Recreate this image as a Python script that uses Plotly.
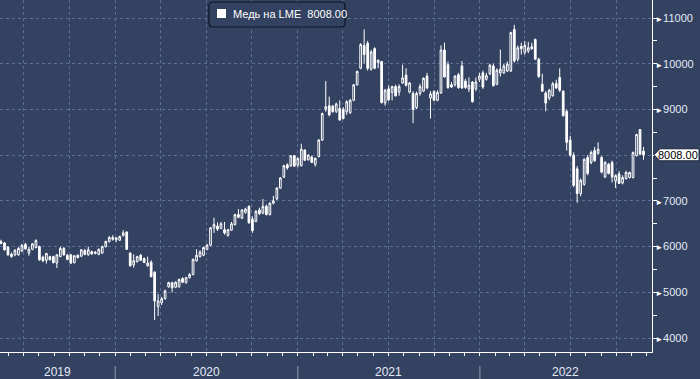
import pandas as pd
import plotly.graph_objects as go

# ---------------- data (weekly LME copper, USD/t) ----------------
week_start = "2019-05-17"
n_weeks = 185

opens = [6110, 6080, 5990, 5830, 5820, 5820, 5900, 6050, 5860, 5940,
         5980, 6000, 5770, 5700, 5780, 5780, 5640, 5780, 5960, 5810,
         5820, 5650, 5810, 5790, 5910, 5820, 5890, 5850, 5830, 5860,
         6000, 6110, 6200, 6150, 6140, 6240, 6320, 5860, 5600, 5670,
         5810, 5740, 5580, 5660, 5440, 4690, 4770, 4860, 5120, 5210,
         5110, 5120, 5300, 5210, 5320, 5390, 5690, 5780, 5810, 5940,
         6030, 6410, 6450, 6400, 6370, 6240, 6360, 6480, 6700, 6620,
         6750, 6880, 6600, 6550, 6800, 6730, 6880, 6700, 6950, 7040,
         7280, 7520, 7790, 7770, 7990, 7780, 7770, 8110, 7900, 7960,
         7800, 7970, 8330, 9000, 9080, 9070, 8960, 9020, 9000, 8950,
         8930, 9200, 9540, 9900, 10400, 10450, 9880, 10330, 10030, 10050,
         9140, 9450, 9370, 9500, 9380, 9580, 9750, 9380, 9350, 9040,
         9350, 9400, 9730, 9250, 9390, 9200, 9360, 10300, 9980, 9540,
         9540, 9760, 9950, 9620, 9450, 9600, 9450, 9660, 9800, 9660,
         9780, 9950, 9550, 9800, 9800, 9840, 9840, 10750, 10100, 10380,
         10250, 10280, 10370, 10530, 10100, 9550, 9360, 9250, 9300, 9570,
         9700, 9400, 8960, 8330, 8000, 7700, 7160, 7360, 7950, 7840,
         8100, 8040, 7950, 7520, 7800, 7840, 7440, 7590, 7390, 7490,
         7510, 7510, 7990, 8560, 8090]

highs = [6150, 6100, 6010, 5870, 5940, 5990, 6060, 6080, 6000, 6080,
         6160, 6020, 5800, 5860, 5800, 5800, 5830, 6000, 5990, 5840,
         5830, 5810, 5830, 5940, 5950, 6000, 5910, 5900, 5960, 6020,
         6130, 6230, 6250, 6210, 6240, 6360, 6330, 5870, 5830, 5800,
         5840, 5760, 5780, 5700, 5460, 4960, 4900, 5060, 5230, 5230,
         5240, 5300, 5330, 5340, 5420, 5740, 5940, 5920, 6000, 6060,
         6430, 6630, 6530, 6540, 6540, 6390, 6540, 6720, 6820, 6820,
         6850, 6900, 6660, 6800, 6850, 7040, 6920, 6970, 7110, 7300,
         7520, 7790, 7820, 8000, 8000, 7950, 8250, 8130, 8020, 7990,
         7950, 8350, 8930, 9620, 9280, 9100, 9150, 9200, 9050, 9200,
         9230, 9550, 9850, 10450, 10750, 10500, 10300, 10360, 10080, 10060,
         9450, 9520, 9520, 9540, 9550, 9980, 9900, 9600, 9400, 9390,
         9560, 9700, 9800, 9400, 9420, 9420, 10400, 10460, 10050, 9600,
         9750, 9800, 10060, 9670, 9700, 9620, 9700, 9800, 9850, 9800,
         10000, 10000, 9900, 10310, 10000, 10050, 10700, 10850, 10400, 10460,
         10500, 10480, 10460, 10550, 10130, 9780, 9400, 9450, 9600, 9650,
         9900, 9420, 9000, 8420, 8060, 7760, 7490, 7930, 8000, 8100,
         8180, 8280, 7980, 7870, 7830, 7880, 7580, 7650, 7560, 7660,
         7640, 8080, 8470, 8570, 8180]

lows = [6050, 5910, 5800, 5760, 5790, 5800, 5880, 5930, 5800, 5920,
        5960, 5690, 5660, 5630, 5700, 5630, 5530, 5770, 5800, 5700,
        5620, 5630, 5740, 5770, 5810, 5800, 5820, 5830, 5810, 5840,
        5980, 6090, 6130, 6100, 6120, 6220, 5930, 5560, 5540, 5650,
        5690, 5640, 5560, 5330, 4390, 4480, 4720, 4840, 5100, 5000,
        5090, 5100, 5200, 5190, 5300, 5370, 5670, 5760, 5790, 5920,
        6010, 6300, 6340, 6380, 6260, 6220, 6340, 6460, 6620, 6600,
        6720, 6500, 6300, 6530, 6690, 6710, 6680, 6680, 6920, 7020,
        7260, 7500, 7680, 7740, 7740, 7730, 7750, 7870, 7880, 7830,
        7750, 7950, 8310, 8950, 8850, 8930, 8920, 8750, 8780, 8880,
        8900, 9180, 9520, 9880, 10000, 9850, 9850, 9880, 9900, 9130,
        9080, 9180, 9200, 9280, 9300, 9560, 9500, 9350, 8700, 9010,
        9300, 9380, 9440, 8800, 9180, 9180, 9340, 9700, 9450, 9470,
        9500, 9450, 9450, 9450, 9380, 9150, 9400, 9600, 9450, 9630,
        9750, 9500, 9530, 9720, 9780, 9820, 9820, 10020, 10050, 10200,
        10200, 10230, 10300, 10080, 9690, 9380, 8960, 9200, 9280, 9450,
        9380, 8850, 8100, 7970, 7300, 6960, 7100, 7330, 7560, 7800,
        7850, 8010, 7600, 7500, 7580, 7400, 7280, 7370, 7360, 7460,
        7490, 7490, 7970, 8000, 7900]

closes = [6070, 5930, 5820, 5780, 5920, 5960, 6030, 5950, 5940, 6060,
          6130, 5710, 5690, 5850, 5710, 5650, 5820, 5960, 5820, 5720,
          5640, 5800, 5760, 5930, 5830, 5930, 5840, 5880, 5940, 6000,
          6110, 6200, 6160, 6190, 6220, 6300, 5940, 5580, 5690, 5780,
          5700, 5650, 5640, 5340, 4810, 4810, 4860, 5030, 5210, 5100,
          5220, 5280, 5220, 5320, 5390, 5720, 5810, 5880, 5980, 6030,
          6410, 6480, 6380, 6500, 6300, 6370, 6500, 6700, 6640, 6800,
          6820, 6520, 6350, 6770, 6720, 6880, 6700, 6950, 7000, 7280,
          7500, 7770, 7720, 7985, 7760, 7930, 8130, 7890, 8000, 7840,
          7930, 8330, 8910, 9060, 8880, 8950, 9120, 8770, 8800, 9170,
          9200, 9540, 9830, 10420, 10200, 9900, 10260, 9900, 10080, 9150,
          9420, 9210, 9500, 9300, 9500, 9690, 9530, 9580, 9000, 9350,
          9500, 9680, 9470, 9340, 9200, 9370, 10300, 9710, 9480, 9490,
          9730, 9480, 9470, 9480, 9530, 9170, 9600, 9730, 9490, 9740,
          9970, 9520, 9860, 9880, 9950, 9990, 10680, 10060, 10350, 10330,
          10400, 10350, 10330, 10100, 9720, 9400, 9140, 9420, 9560, 9470,
          9420, 8860, 8280, 8000, 7340, 7160, 7450, 7910, 7600, 8060,
          7880, 8130, 7630, 7840, 7600, 7520, 7550, 7380, 7510, 7620,
          7620, 8060, 8450, 8020, 8008]

series_name = "Медь на LME"
y_ticks = [4000, 5000, 6000, 7000, 8000, 9000, 10000, 11000]
quarter_ticks = ["2019-07-01", "2019-10-01", "2020-01-01", "2020-04-01",
                 "2020-07-01", "2020-10-01", "2021-01-01", "2021-04-01",
                 "2021-07-01", "2021-10-01", "2022-01-01", "2022-04-01",
                 "2022-07-01", "2022-10-01"]
year_labels = ["2019", "2020", "2021", "2022"]

# ---------------- styling ----------------
BG = "#344261"
GRID = "#5b6f97"
TXT = "#e3eaf7"
FONT = "Liberation Sans"
W, H = 700, 379
ML, MR, MT, MB = 0, 48, 0, 27
PW, PH = W - ML - MR, H - MT - MB

x_range = [pd.Timestamp("2019-05-15"), pd.Timestamp("2022-12-12")]
y_range = [3694, 11394]

dates = pd.date_range(week_start, periods=n_weeks, freq="7D")
last = closes[-1]

fig = go.Figure()
fig.add_trace(go.Candlestick(
    x=dates, open=opens, high=highs, low=lows, close=closes,
    name=series_name,
    increasing=dict(line=dict(color="white", width=1), fillcolor=BG),
    decreasing=dict(line=dict(color="white", width=1), fillcolor="white"),
    whiskerwidth=0, showlegend=False, hoverinfo="skip",
))

def px(x):
    return x / PW

def py(y):
    return 1 - y / PH

shapes = []
annotations = []

# year separators below axis
for yr in year_labels[1:]:
    shapes.append(dict(type="line", xref="x", yref="paper",
                       x0=f"{yr}-01-01", x1=f"{yr}-01-01",
                       y0=py(366), y1=py(380),
                       line=dict(color="#9098ab", width=1)))

# year labels centred in visible year span
bounds = [x_range[0]] + [pd.Timestamp(f"{y}-01-01") for y in year_labels[1:]] + [x_range[1]]
for i, yr in enumerate(year_labels):
    mid = bounds[i] + (bounds[i + 1] - bounds[i]) / 2
    annotations.append(dict(x=mid, y=py(372), xref="x", yref="paper",
                            text=yr, showarrow=False, xanchor="center",
                            yanchor="middle",
                            font=dict(family=FONT, size=12, color=TXT)))

# legend box
r = 4
x0b, x1b, y0b, y1b = 209, 345, 2, 27
path = (f"M {px(x0b + r)},{py(y0b)} L {px(x1b - r)},{py(y0b)} "
        f"Q {px(x1b)},{py(y0b)} {px(x1b)},{py(y0b + r)} "
        f"L {px(x1b)},{py(y1b - r)} Q {px(x1b)},{py(y1b)} {px(x1b - r)},{py(y1b)} "
        f"L {px(x0b + r)},{py(y1b)} Q {px(x0b)},{py(y1b)} {px(x0b)},{py(y1b - r)} "
        f"L {px(x0b)},{py(y0b + r)} Q {px(x0b)},{py(y0b)} {px(x0b + r)},{py(y0b)} Z")
shapes.append(dict(type="path", xref="paper", yref="paper", path=path,
                   fillcolor=BG, line=dict(color="#0e1424", width=1.2)))
shapes.append(dict(type="rect", xref="paper", yref="paper",
                   x0=px(217), x1=px(226), y0=py(18), y1=py(9),
                   fillcolor="white", line=dict(width=0)))
annotations.append(dict(x=px(231), y=py(14.5), xref="paper", yref="paper",
                        text=f"{series_name}  {last:.2f}", showarrow=False,
                        xanchor="left", yanchor="middle",
                        font=dict(family=FONT, size=11, color="white")))

# last price tag on right axis
yp = (last - y_range[0]) / (y_range[1] - y_range[0])
hh = 6 / PH
tag = (f"M {px(654)},{yp} L {px(660)},{yp + hh} L {px(699)},{yp + hh} "
       f"L {px(699)},{yp - hh} L {px(660)},{yp - hh} Z")
shapes.append(dict(type="path", xref="paper", yref="paper", path=tag,
                   fillcolor="white", line=dict(color="#1a2236", width=1)))
annotations.append(dict(x=px(678), y=yp, xref="paper", yref="paper",
                        text=f"{last:.2f}", showarrow=False,
                        xanchor="center", yanchor="middle",
                        font=dict(family=FONT, size=11, color="black")))

# tick labels hidden where the last-price tag covers them
tick_text = ["" if abs(v - last) < 300 else
             f"<span style='color:white;font-size:8px'>►</span>{v}"
             for v in y_ticks]

fig.update_layout(
    width=W, height=H,
    margin=dict(l=ML, r=MR, t=MT, b=MB, pad=0),
    paper_bgcolor=BG, plot_bgcolor=BG,
    showlegend=False,
    shapes=shapes, annotations=annotations,
    xaxis=dict(
        type="date", range=x_range, rangeslider=dict(visible=False),
        tickmode="array", tickvals=quarter_ticks, showticklabels=False,
        ticks="outside", ticklen=3, tickcolor="white", tickwidth=1,
        showgrid=True, gridcolor=GRID, griddash="3px,3px", gridwidth=1,
        showline=True, linecolor="white", linewidth=1, zeroline=False,
        minor=dict(dtick="M1", tick0="2019-01-01", ticks="outside",
                   ticklen=3, tickcolor="white", showgrid=False),
        fixedrange=True,
    ),
    yaxis=dict(
        side="right", range=y_range,
        tickmode="array", tickvals=y_ticks, ticktext=tick_text,
        ticks="", showgrid=True, gridcolor=GRID, griddash="3px,3px",
        gridwidth=1, showline=True, linecolor="white", linewidth=1,
        zeroline=False,
        tickfont=dict(family=FONT, size=11, color=TXT),
        minor=dict(dtick=500, tick0=3500, ticks="outside", ticklen=4,
                   tickcolor="white", showgrid=False),
        fixedrange=True,
    ),
)

fig.write_html("out.html")
